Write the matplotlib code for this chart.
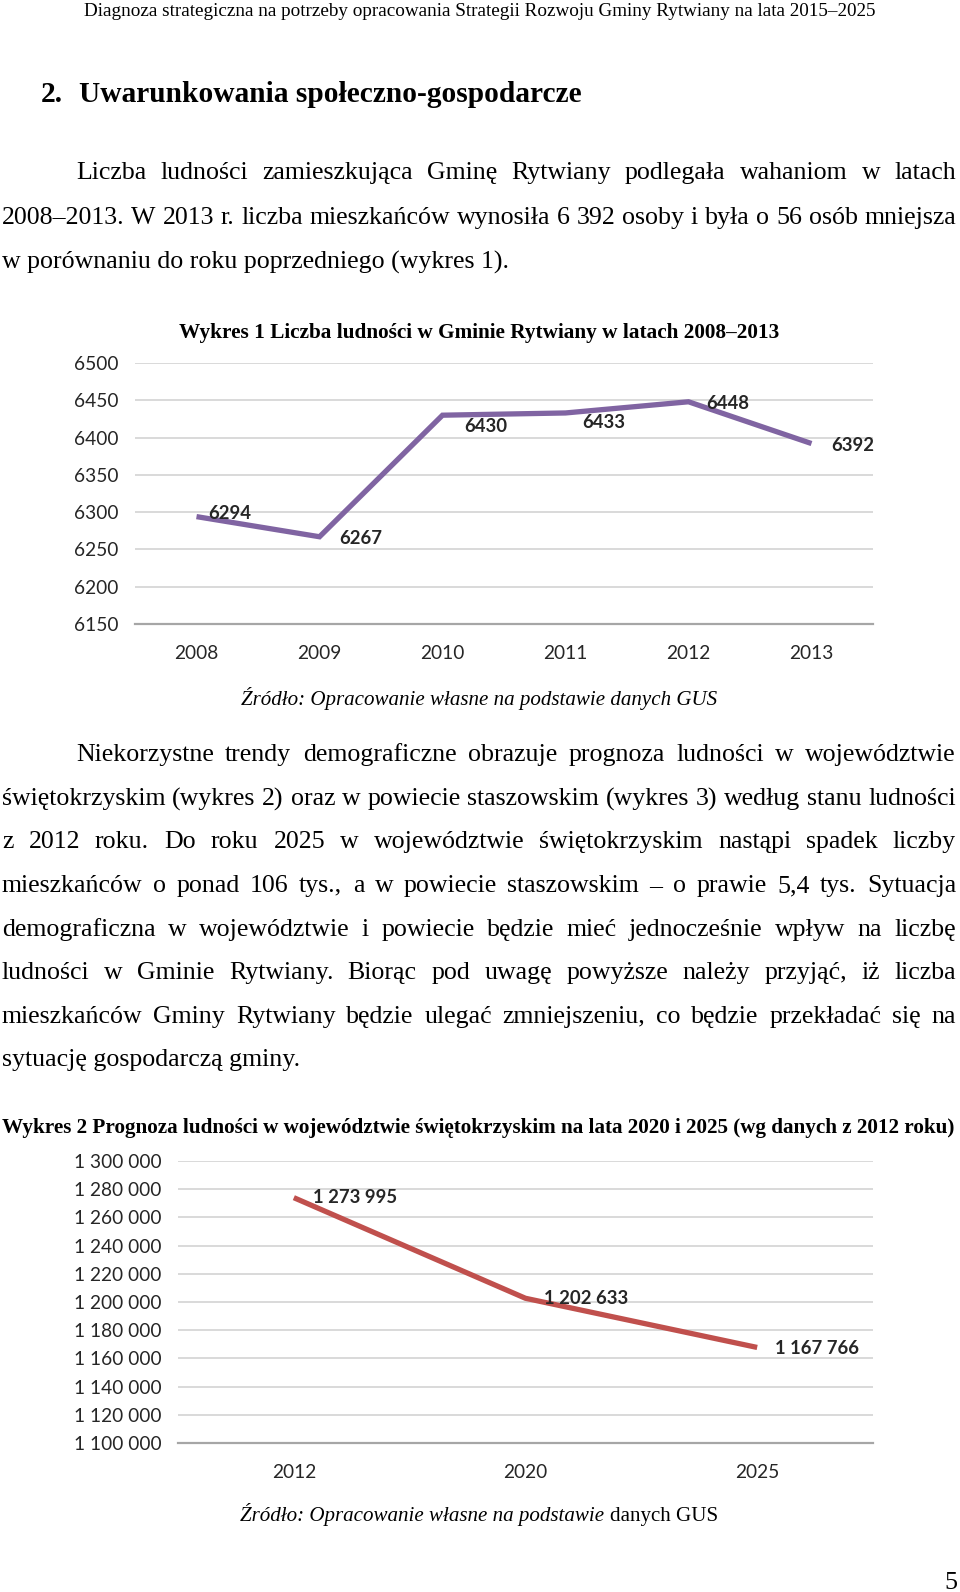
import matplotlib
matplotlib.use("Agg")
import matplotlib.pyplot as plt
from matplotlib.ticker import FuncFormatter

# ---------------- data ----------------
years1 = ["2008", "2009", "2010", "2011", "2012", "2013"]
pop1 = [6294, 6267, 6430, 6433, 6448, 6392]
yticks1 = [6150, 6200, 6250, 6300, 6350, 6400, 6450, 6500]

years2 = ["2012", "2020", "2025"]
pop2 = [1273995, 1202633, 1167766]
yticks2 = [1100000, 1120000, 1140000, 1160000, 1180000, 1200000,
           1220000, 1240000, 1260000, 1280000, 1300000]

header = "Diagnoza strategiczna na potrzeby opracowania Strategii Rozwoju Gminy Rytwiany na lata 2015–2025"
heading_num = "2."
heading = "Uwarunkowania społeczno-gospodarcze"
para1 = [
    "Liczba ludności zamieszkująca Gminę Rytwiany podlegała wahaniom w latach",
    "2008–2013. W 2013 r. liczba mieszkańców wynosiła 6 392 osoby i była o 56 osób mniejsza",
    "w porównaniu do roku poprzedniego (wykres 1).",
]
para2 = [
    "Niekorzystne trendy demograficzne obrazuje prognoza ludności w województwie",
    "świętokrzyskim (wykres 2) oraz w powiecie staszowskim (wykres 3) według stanu ludności",
    "z 2012 roku. Do roku 2025 w województwie świętokrzyskim nastąpi spadek liczby",
    "mieszkańców o ponad 106 tys., a w powiecie staszowskim – o prawie 5,4 tys. Sytuacja",
    "demograficzna w województwie i powiecie będzie mieć jednocześnie wpływ na liczbę",
    "ludności w Gminie Rytwiany. Biorąc pod uwagę powyższe należy przyjąć, iż liczba",
    "mieszkańców Gminy Rytwiany będzie ulegać zmniejszeniu, co będzie przekładać się na",
    "sytuację gospodarczą gminy.",
]
title1 = "Wykres 1 Liczba ludności w Gminie Rytwiany w latach 2008–2013"
title2 = "Wykres 2 Prognoza ludności w województwie świętokrzyskim na lata 2020 i 2025 (wg danych z 2012 roku)"
source_it = "Źródło: Opracowanie własne na podstawie "
source_rest = "danych GUS"
page_no = "5"

# ---------------- page ----------------
W, H = 960, 1592
fig = plt.figure(figsize=(W / 100, H / 100), dpi=100)
fig.patch.set_facecolor("white")
renderer = fig.canvas.get_renderer()
SERIF = ["Liberation Serif", "DejaVu Serif"]
SANS = ["Lato", "DejaVu Sans"]
DY = 3  # vertical correction for serif text


def measure(s, size, **kw):
    t = fig.text(0, 0, s, fontsize=size, family=SERIF, **kw)
    w = t.get_window_extent(renderer).width
    t.remove()
    return w


def fit(s, width, **kw):
    return 20 * width / measure(s, 20, **kw)


def put(x, y, s, size, ha="left", dy=DY, va="center", **kw):
    fig.text(x / W, 1 - (y + dy) / H, s, fontsize=size, family=SERIF, ha=ha,
             va=va, color="black", **kw)


def justified(line, x0, x1, y, size):
    words = line.split(" ")
    ws = [measure(w, size) for w in words]
    gap = (x1 - x0 - sum(ws)) / (len(words) - 1)
    x = x0
    for w, wd in zip(words, ws):
        put(x, y, w, size)
        x += wd + gap


# header
put(479.5, 11, header, fit(header, 791), ha="center", dy=0)
# heading
hs = fit(heading, 501, weight="bold")
put(41, 91, heading_num, hs, weight="bold")
put(79, 91, heading, hs, weight="bold")

body = 0.5 * (fit(para2[-1], 288) + fit(para1[-1], 524))
LEFT, RIGHT, INDENT = 2, 956, 76

ys1 = [170, 215, 259]
for i, (line, y) in enumerate(zip(para1, ys1)):
    x0 = INDENT if i == 0 else LEFT
    if i == len(para1) - 1:
        put(x0, y, line, body)
    else:
        justified(line, x0, RIGHT, y, body)

ys2 = [752, 796, 839, 883, 927, 970, 1014, 1057]
for i, (line, y) in enumerate(zip(para2, ys2)):
    x0 = INDENT if i == 0 else LEFT
    if i == len(para2) - 1:
        put(x0, y, line, body)
    else:
        justified(line, x0, RIGHT, y, body)

# chart titles
put(479, 330, title1, fit(title1, 600, weight="bold"), ha="center", weight="bold")
put(2, 1125, title2, fit(title2, 952, weight="bold"), weight="bold")

# sources
src_size = fit(source_it + source_rest, 477, style="italic")
put(479, 695, source_it + source_rest, src_size, ha="center", style="italic")
w_it = measure(source_it, src_size, style="italic")
w_re = measure(source_rest, src_size)
x_start = 479 - (w_it + w_re) / 2
put(x_start, 1518, source_it, src_size, style="italic", va="baseline")
put(x_start + w_it, 1518, source_rest, src_size, va="baseline")

put(951, 1580, page_no, body, ha="center")


# ---------------- charts ----------------
TICK = 13.8
LAB = 13.3


def make_axes(x0, x1, ytop, ybot):
    return fig.add_axes([x0 / W, 1 - ybot / H, (x1 - x0) / W, (ybot - ytop) / H])


def style_axes(ax, ylo, yhi, yt, ncat, labels):
    ax.set_ylim(ylo, yhi)
    ax.set_xlim(-0.5, ncat - 0.5)
    ax.set_yticks(yt)
    ax.set_xticks(range(ncat))
    ax.set_xticklabels(labels)
    for s in ["top", "right", "left"]:
        ax.spines[s].set_visible(False)
    ax.spines["bottom"].set_color("#A6A6A6")
    ax.spines["bottom"].set_linewidth(1.6)
    ax.grid(axis="y", color="#D9D9D9", linewidth=1.4)
    ax.set_axisbelow(True)
    ax.tick_params(length=0, labelsize=TICK, colors="#262626")
    ax.tick_params(axis="y", pad=12)
    ax.tick_params(axis="x", pad=15)
    for lab in ax.get_xticklabels() + ax.get_yticklabels():
        lab.set_family(SANS)


# chart 1
ax1 = make_axes(135, 873, 363, 624)
ax1.plot(range(len(years1)), pop1, color="#8064A2", linewidth=3.8,
         solid_capstyle="butt", solid_joinstyle="miter")
style_axes(ax1, yticks1[0], yticks1[-1], yticks1, len(years1), years1)
off1 = [(12, -3), (20, 2), (22, 11), (17, 10), (18, 2), (20, 2)]
for i, (v, (dx, dy)) in enumerate(zip(pop1, off1)):
    ax1.annotate(str(v), (i, v), xytext=(dx, -dy), textcoords="offset pixels",
                 ha="left", va="center", fontsize=LAB, fontweight="bold",
                 family=SANS, color="#262626")

# chart 2
ax2 = make_axes(178, 873, 1161, 1443)
ax2.plot(range(len(years2)), pop2, color="#C0504D", linewidth=3.8,
         solid_capstyle="butt", solid_joinstyle="miter")
style_axes(ax2, yticks2[0], yticks2[-1], yticks2, len(years2), years2)
ax2.yaxis.set_major_formatter(FuncFormatter(lambda v, p: f"{v:,.0f}".replace(",", " ")))
for lab in ax2.get_yticklabels():
    lab.set_family(SANS)
off2 = [(19, 0), (18, 0), (18, 1)]
for i, (v, (dx, dy)) in enumerate(zip(pop2, off2)):
    ax2.annotate(f"{v:,}".replace(",", " "), (i, v), xytext=(dx, -dy),
                 textcoords="offset pixels", ha="left", va="center",
                 fontsize=LAB, fontweight="bold", family=SANS, color="#262626")

fig.savefig("out.png", dpi=100, facecolor="white")
